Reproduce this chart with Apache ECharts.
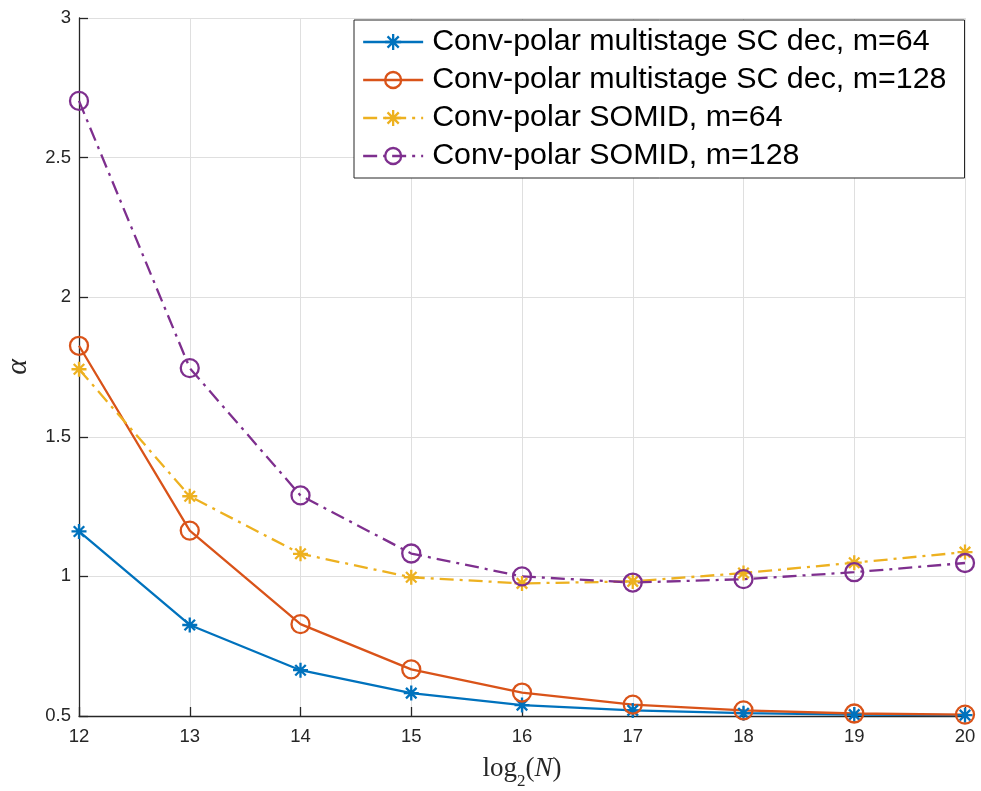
<!DOCTYPE html>
<html>
<head>
<meta charset="utf-8">
<script src="https://cdn.jsdelivr.net/npm/echarts@6/dist/echarts.min.js"></script>
<style>
  html, body { margin: 0; padding: 0; background: #ffffff; }
  #chart { width: 981px; height: 791px; }
</style>
</head>
<body>
<div id="chart"></div>
<script>
// log2(N) positions on the horizontal axis
const log2N = [12, 13, 14, 15, 16, 17, 18, 19, 20];

// alpha for each decoder / list size
const scM64   = [1.161, 0.826, 0.664, 0.582, 0.539, 0.520, 0.510, 0.505, 0.503];
const scM128  = [1.826, 1.164, 0.829, 0.667, 0.584, 0.541, 0.520, 0.509, 0.505];
const somidM64  = [1.742, 1.287, 1.081, 0.997, 0.975, 0.982, 1.012, 1.049, 1.087];
const somidM128 = [2.703, 1.746, 1.290, 1.082, 1.000, 0.978, 0.990, 1.015, 1.048];

const seriesNames = [
  'Conv-polar multistage SC dec, m=64',
  'Conv-polar multistage SC dec, m=128',
  'Conv-polar SOMID, m=64',
  'Conv-polar SOMID, m=128'
];

const BLUE = '#0072BD', ORANGE = '#D95319', YELLOW = '#EDB120', PURPLE = '#7E2F8E';
const INK = '#262626';
const GRID = '#dfdfdf';
const DASH_DOT = [14, 6, 3, 6];
const STAR = 'path://M10,0L10,20M0,10L20,10M3,3L17,17M3,17L17,3';

function pairs(vals) { return log2N.map((x, i) => [x, vals[i]]); }

function makeSeries(name, vals, color, marker, dashed) {
  const isStar = marker === 'star';
  return {
    name: name,
    type: 'line',
    data: pairs(vals),
    color: color,
    symbol: isStar ? STAR : 'circle',
    symbolSize: isStar ? 15 : 18,
    symbolKeepAspect: true,
    showAllSymbol: true,
    lineStyle: { color: color, width: 2.3, type: dashed ? DASH_DOT : 'solid' },
    itemStyle: { color: 'rgba(0,0,0,0)', borderColor: color, borderWidth: 2.3 },
    emphasis: { disabled: true },
    animation: false
  };
}

const series = [
  makeSeries(seriesNames[0], scM64, BLUE, 'star', false),
  makeSeries(seriesNames[1], scM128, ORANGE, 'circle', false),
  makeSeries(seriesNames[2], somidM64, YELLOW, 'star', true),
  makeSeries(seriesNames[3], somidM128, PURPLE, 'circle', true)
];

const legendColors = [BLUE, ORANGE, YELLOW, PURPLE];

const chart = echarts.init(document.getElementById('chart'), null, { renderer: 'canvas' });

chart.setOption({
  backgroundColor: '#ffffff',
  animation: false,
  grid: { left: 79, right: 16, top: 18, bottom: 75, containLabel: false, outerBoundsMode: 'none' },
  xAxis: {
    type: 'value',
    min: 12, max: 20, interval: 1,
    name: '{a|log}{b|2}{a|(}{c|N}{a|)}',
    nameLocation: 'middle',
    nameGap: 38,
    nameTextStyle: {
      color: INK,
      rich: {
        a: { fontFamily: 'Liberation Serif', fontSize: 27, color: INK, lineHeight: 30 },
        b: { fontFamily: 'Liberation Serif', fontSize: 17, color: INK, lineHeight: 30, verticalAlign: 'bottom', padding: [0, 0, -6, 0] },
        c: { fontFamily: 'Liberation Serif', fontStyle: 'italic', fontSize: 27, color: INK, lineHeight: 30 }
      }
    },
    axisLine: { show: true, onZero: false, lineStyle: { color: INK, width: 1.3 } },
    axisTick: { show: true, inside: true, length: 9, lineStyle: { color: INK, width: 1.3 } },
    axisLabel: { color: INK, fontFamily: 'Liberation Sans', fontSize: 18.5, margin: 11 },
    splitLine: { show: true, lineStyle: { color: GRID, width: 1 } }
  },
  yAxis: {
    type: 'value',
    min: 0.5, max: 3, interval: 0.5,
    name: 'α',
    nameLocation: 'middle',
    nameRotate: 90,
    nameGap: 46,
    nameTextStyle: { color: INK, fontFamily: 'Liberation Serif', fontStyle: 'italic', fontSize: 30 },
    axisLine: { show: true, onZero: false, lineStyle: { color: INK, width: 1.3 } },
    axisTick: { show: true, inside: true, length: 9, lineStyle: { color: INK, width: 1.3 } },
    axisLabel: {
      color: INK, fontFamily: 'Liberation Sans', fontSize: 18.5, margin: 8,
      formatter: v => String(v)
    },
    splitLine: { show: true, lineStyle: { color: GRID, width: 1 } }
  },
  legend: {
    orient: 'vertical',
    left: 354,
    top: 20,
    padding: [7, 18, 7, 8],
    itemGap: 8,
    itemWidth: 60,
    itemHeight: 20,
    backgroundColor: '#ffffff',
    borderColor: INK,
    borderWidth: 1,
    borderRadius: 0,
    selectedMode: false,
    textStyle: { color: '#000000', fontFamily: 'Liberation Sans', fontSize: 30.4, lineHeight: 30, padding: [0, 0, 0, 4] },
    data: seriesNames.map((n, i) => ({
      name: n,
      itemStyle: { color: 'rgba(0,0,0,0)', borderColor: legendColors[i], borderWidth: 2.3 },
      lineStyle: { color: legendColors[i], width: 2.3, type: i >= 2 ? DASH_DOT : 'solid' }
    }))
  },
  series: series
});
</script>
</body>
</html>
